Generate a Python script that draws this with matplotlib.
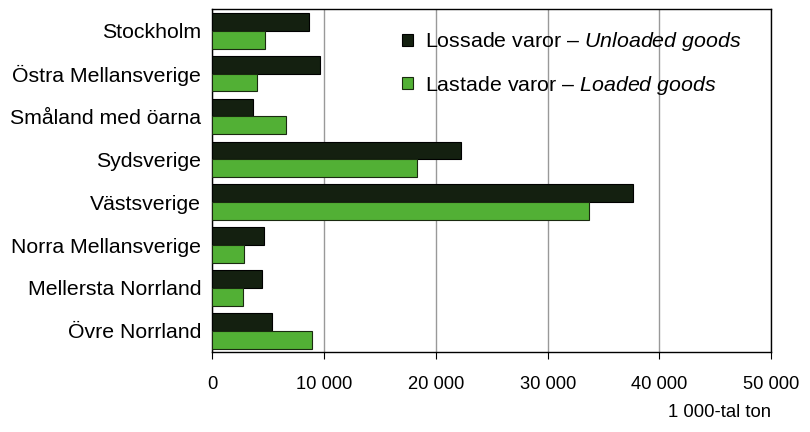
import numpy as np
import matplotlib.pyplot as plt
from matplotlib.ticker import FuncFormatter

plt.rcParams['font.family'] = ['Liberation Sans', 'DejaVu Sans']
plt.rcParams['mathtext.fontset'] = 'custom'
plt.rcParams['mathtext.rm'] = 'Liberation Sans'
plt.rcParams['mathtext.it'] = 'Liberation Sans:italic'

regions = ["Stockholm", "Östra Mellansverige", "Småland med öarna", "Sydsverige",
           "Västsverige", "Norra Mellansverige", "Mellersta Norrland", "Övre Norrland"]
unloaded = [8600, 9600, 3600, 22200, 37600, 4600, 4400, 5300]
loaded = [4700, 4000, 6600, 18300, 33700, 2800, 2700, 8900]

y = np.arange(len(regions))
h = 0.415

fig = plt.figure(figsize=(8.1, 4.32), dpi=100)
ax = fig.add_axes([0.2623, 0.1845, 0.6897, 0.794])

b1 = ax.barh(y - h/2, unloaded, height=h, color='#142010', edgecolor='black', linewidth=0.8,
             label='Lossade varor – $\\it{Unloaded\\ goods}$', zorder=3)
b2 = ax.barh(y + h/2, loaded, height=h, color='#52b035', edgecolor='#1a2a10', linewidth=0.8,
             label='Lastade varor – $\\it{Loaded\\ goods}$', zorder=3)

ax.set_xlim(0, 50000)
ax.set_ylim(len(regions) - 0.5, -0.5)
ax.set_yticks(y)
ax.set_yticklabels(regions, fontsize=15.3)
ax.set_xticks(np.arange(0, 50001, 10000))
ax.xaxis.set_major_formatter(FuncFormatter(lambda v, p: f"{int(v):,}".replace(",", " ")))
ax.tick_params(axis='x', labelsize=13.2, length=5, pad=12)
ax.tick_params(axis='y', length=0, pad=8)
ax.grid(axis='x', color='#999999', linewidth=1, zorder=0)
for s in ax.spines.values():
    s.set_linewidth(1)
    s.set_color('black')

ax.set_xlabel("1 000-tal ton", fontsize=13.3, loc='right', labelpad=8)

leg = ax.legend(loc='upper left', bbox_to_anchor=(0.305, 0.995), frameon=False, fontsize=15.4,
                handlelength=0.5, handleheight=0.5, handletextpad=0.55, labelspacing=0.95)

fig.savefig('out.png', dpi=100)
